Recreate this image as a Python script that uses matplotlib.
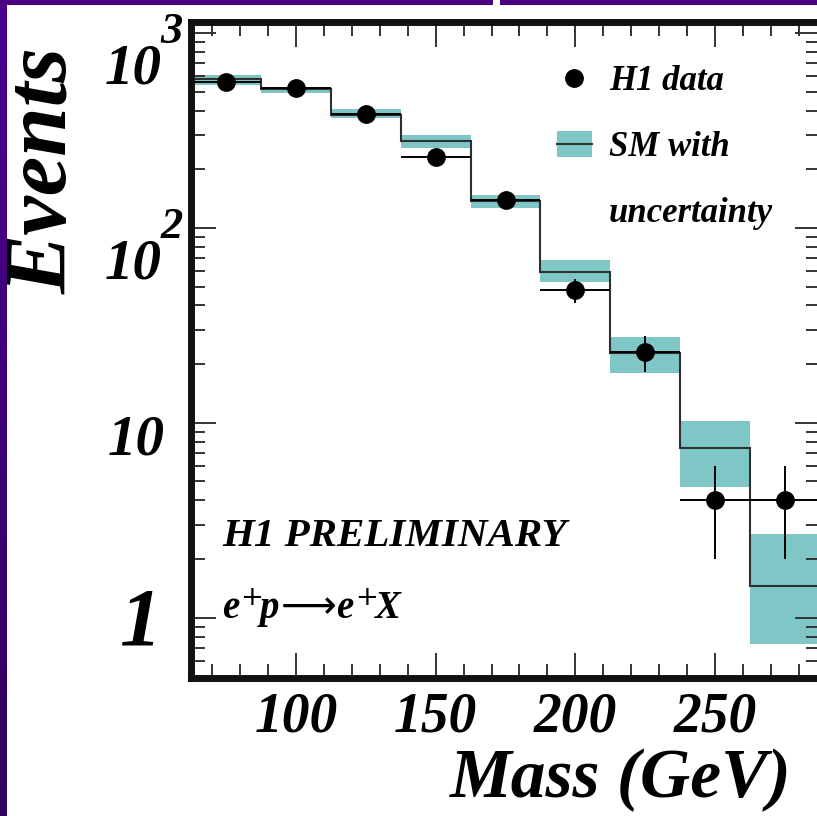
import numpy as np
import matplotlib
matplotlib.use("Agg")
import matplotlib.pyplot as plt
from matplotlib.patches import Patch, Rectangle
from matplotlib.lines import Line2D
from matplotlib.ticker import LogLocator, NullFormatter, MultipleLocator
from matplotlib.colors import LinearSegmentedColormap
import matplotlib.transforms as mtransforms

# ---------------- data ----------------
bin_edges = [62.5, 87.5, 112.5, 137.5, 162.5, 187.5, 212.5, 237.5, 262.5, 287.5]
mass_centers = [75, 100, 125, 150, 175, 200, 225, 250, 275]
bin_halfwidth = 12.5
data_events = [562, 520, 384, 232, 139, 48, 23, 4, 4]
data_err = [23.7, 22.8, 19.6, 15.2, 11.8, 6.9, 4.8, 2.0, 2.0]
sm_events = [579, 514, 380, 280, 138, 59.7, 22.8, 7.4, 1.46]
sm_low = [541, 491, 365, 258, 126, 52.5, 18.0, 4.68, 0.73]
sm_high = [609, 531, 406, 300, 148, 68.5, 27.5, 10.2, 2.69]

xticks = [100, 150, 200, 250]
xtick_labels = ["100", "150", "200", "250"]
ytick_vals = [1, 10, 100, 1000]
ytick_base = ["1", "10", "10", "10"]
ytick_exp = ["", "", "2", "3"]

# ---------------- style ----------------
plt.rcParams["font.family"] = ["Liberation Serif", "DejaVu Serif"]
plt.rcParams["font.weight"] = "bold"
plt.rcParams["font.style"] = "italic"
plt.rcParams["mathtext.fontset"] = "custom"
plt.rcParams["mathtext.it"] = "Liberation Serif:bold:italic"
plt.rcParams["mathtext.rm"] = "DejaVu Sans:light"
plt.rcParams["mathtext.bf"] = "Liberation Serif:bold:italic"

TEAL = "#7fc7c7"
LINE = "#2f2f2f"
PURPLE = "#4b0082"

W, H = 817, 816
fig = plt.figure(figsize=(W / 100, H / 100), dpi=100)
fig.patch.set_facecolor("white")

# axes geometry (pixels)
L, R, T, B = 191, 820, 22, 678
ax = fig.add_axes([L / W, 1 - B / H, (R - L) / W, (B - T) / H])
ax.set_facecolor("white")
ax.set_yscale("log")
ax.set_xlim(62.5, 287.5)
ax.set_ylim(0.49, 1140)

# SM band + line
ax.stairs(sm_high, bin_edges, baseline=sm_low, fill=True, color=TEAL, lw=0, zorder=1)
ax.stairs(sm_events, bin_edges, baseline=None, color=LINE, lw=1.5, zorder=2)

# data
ax.errorbar(mass_centers, data_events, yerr=data_err, xerr=bin_halfwidth,
            fmt="o", color="black", ms=12.5, elinewidth=1.4, capsize=0, zorder=3)

# spines
for s in ["left", "right", "top", "bottom"]:
    ax.spines[s].set_linewidth(5)
    ax.spines[s].set_color("#111111")

# ticks
ax.set_xticks(xticks)
ax.set_xticklabels(xtick_labels)
ax.xaxis.set_minor_locator(MultipleLocator(10))
ax.yaxis.set_minor_locator(LogLocator(base=10, subs=np.arange(2, 10), numticks=20))
ax.yaxis.set_minor_formatter(NullFormatter())
ax.set_yticks(ytick_vals)
ax.set_yticklabels([])
ax.tick_params(axis="both", which="major", direction="in", length=18, width=1.4,
               color="#333333", top=True, right=True)
ax.tick_params(axis="both", which="minor", direction="in", length=10, width=1.4,
               color="#333333", top=True, right=True)
ax.tick_params(axis="x", which="major", labelsize=40, pad=10)
for lab in ax.get_xticklabels():
    lab.set_fontweight("bold")
    lab.set_fontstyle("italic")

# y tick labels (ROOT-style 10^n)
yt = mtransforms.blended_transform_factory(ax.transAxes, ax.transData)
for v, b, e in zip(ytick_vals, ytick_base, ytick_exp):
    if e:
        ax.annotate(b, xy=(0, v), xycoords=yt, xytext=(-21, -26), textcoords="offset points",
                    ha="right", va="center", fontsize=41, fontweight="bold", fontstyle="italic",
                    annotation_clip=False)
        ax.annotate(e, xy=(0, v), xycoords=yt, xytext=(-22, 1), textcoords="offset points",
                    ha="left", va="center", fontsize=32, fontweight="bold", fontstyle="italic",
                    annotation_clip=False)
    elif b == "1":
        ax.annotate(b, xy=(0, v), xycoords=yt, xytext=(-22, -5), textcoords="offset points",
                    ha="right", va="center", fontsize=60, fontweight="bold", fontstyle="italic",
                    annotation_clip=False)
    else:
        ax.annotate(b, xy=(0, v), xycoords=yt, xytext=(-19, -13), textcoords="offset points",
                    ha="right", va="center", fontsize=41, fontweight="bold", fontstyle="italic",
                    annotation_clip=False)

# legend
h_data = Line2D([], [], marker="o", ls="none", color="black", ms=12.5)
h_sm = (Patch(facecolor=TEAL, edgecolor="none"), Line2D([], [], color=LINE, lw=1.5))
h_blank = Line2D([], [], ls="none")
leg = ax.legend([h_data, h_sm, h_blank], ["H1 data", "SM with", "uncertainty"],
                loc="upper left", bbox_to_anchor=(0.582, 0.934), frameon=False,
                prop={"family": "Liberation Serif", "weight": "bold", "style": "italic", "size": 25},
                handlelength=1.0, handleheight=0.75, handletextpad=0.5,
                labelspacing=0.95, borderpad=0, borderaxespad=0, numpoints=1)

# annotations
ax.text(0.049, 0.216, "H1 PRELIMINARY", transform=ax.transAxes, ha="left", va="center",
        fontsize=29.5, fontweight="bold", fontstyle="italic")
ax.text(0.049, 0.107, r"$e^{+}\!p\!\longrightarrow\! e^{+}\!X$", transform=ax.transAxes,
        ha="left", va="center", fontsize=28)

# axis titles
fig.text(45 / W, 1 - 170 / H, "Events", rotation=90, ha="center", va="center",
         fontsize=64, fontweight="bold", fontstyle="italic")
fig.text(792 / W, 1 - 780 / H, "Mass (GeV)", ha="right", va="center",
         fontsize=50, fontweight="bold", fontstyle="italic")

# purple slide frame
fig.patches.append(Rectangle((0, 1 - 5 / H), 1, 5 / H, transform=fig.transFigure,
                             facecolor=PURPLE, edgecolor="none", zorder=10))
fig.patches.append(Rectangle((493 / W, 1 - 5 / H), 7 / W, 5 / H, transform=fig.transFigure,
                             facecolor="white", edgecolor="none", zorder=11))
bax = fig.add_axes([0, 0, 7 / W, 1])
grad = np.linspace(0, 1, 256).reshape(-1, 1)
cm = LinearSegmentedColormap.from_list("pp", ["#30005e", "#4b0090"])
bax.imshow(grad, aspect="auto", cmap=cm, origin="lower", extent=[0, 1, 0, 1])
bax.set_axis_off()

fig.savefig("out.png", dpi=100, facecolor="white")
